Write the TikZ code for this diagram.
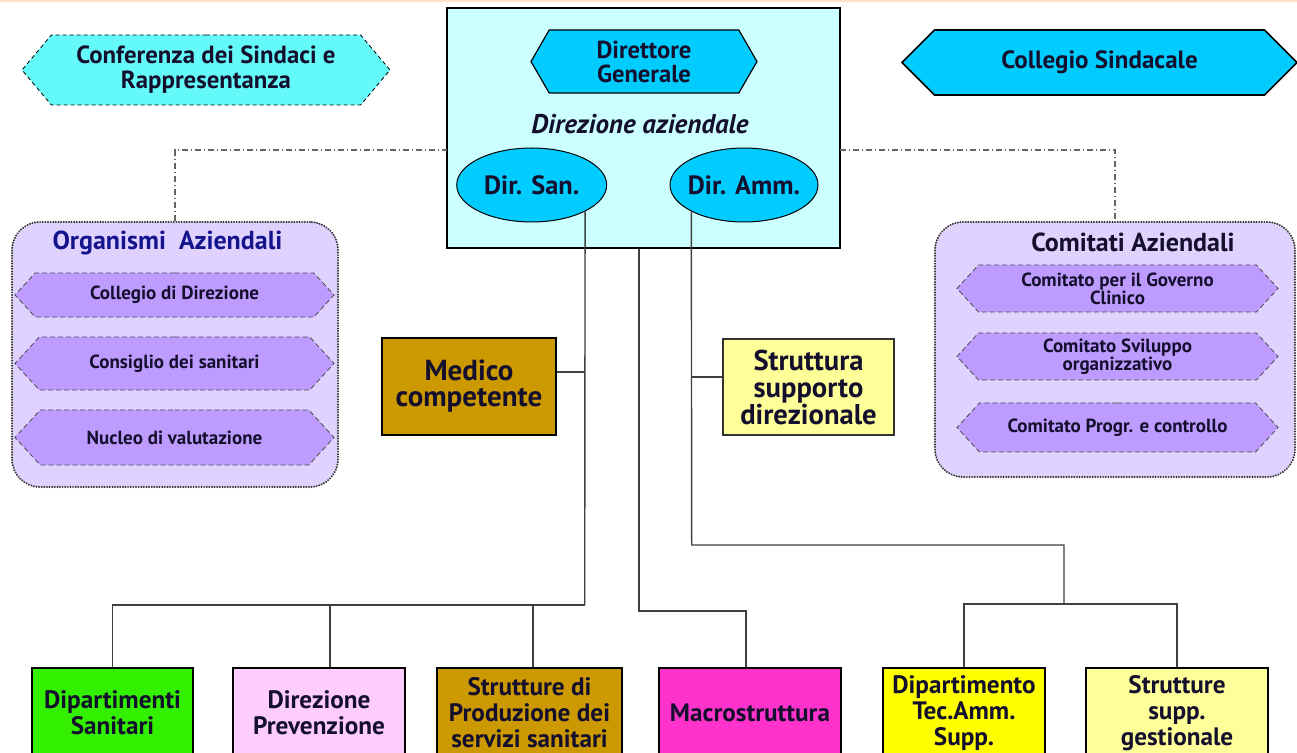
\documentclass[tikz,border=0pt]{standalone}
\usepackage{fontspec}
\setmainfont{PT Sans}
\usepackage{xcolor}
\usetikzlibrary{shapes.geometric, shapes.symbols}
\definecolor{ink}{RGB}{20,15,45}
\definecolor{confcyan}{RGB}{100,250,250}
\definecolor{skycyan}{RGB}{0,204,255}
\definecolor{dircyan}{RGB}{204,255,255}
\definecolor{panellilac}{RGB}{224,210,255}
\definecolor{itemlilac}{RGB}{190,155,255}
\definecolor{orgnavy}{RGB}{20,20,140}
\definecolor{ochre}{RGB}{204,153,0}
\definecolor{paleyellow}{RGB}{255,255,153}
\definecolor{brightgreen}{RGB}{51,240,0}
\definecolor{palepink}{RGB}{255,204,255}
\definecolor{hotmagenta}{RGB}{255,51,204}
\definecolor{pureyellow}{RGB}{255,255,0}
\definecolor{peach}{RGB}{255,228,196}
\tikzstyle{confhex} = [signal, signal to=west and east, signal pointer angle=100, minimum width=184pt, minimum height=35pt, align=center, draw=black, dash pattern=on 2pt off 1.5pt, fill=confcyan, font=\fontsize{12.4}{12.4}\selectfont\bfseries]
\tikzstyle{sindhex} = [signal, signal to=west and east, signal pointer angle=90, minimum width=197.5pt, minimum height=32.5pt, draw=black, line width=0.8pt, fill=skycyan, font=\fontsize{12.5}{12}\selectfont\bfseries]
\tikzstyle{dghex} = [signal, signal to=west and east, signal pointer angle=120, minimum width=113pt, minimum height=31.5pt, align=center, draw=black, line width=0.6pt, fill=skycyan, font=\fontsize{12.3}{12}\selectfont\bfseries]
\tikzstyle{dirbox} = [rectangle, draw=black, line width=1.2pt, fill=dircyan, minimum width=196.5pt, minimum height=120pt]
\tikzstyle{direll} = [ellipse, draw=black, line width=0.5pt, fill=skycyan, inner xsep=-8pt, minimum height=37pt, font=\fontsize{13.2}{13}\selectfont\bfseries]
\tikzstyle{panel} = [rectangle, rounded corners=14pt, draw=black!80, line width=1.1pt, dash pattern=on 0.01pt off 1.3pt, line cap=round, fill=panellilac]
\tikzstyle{paneltitle} = [font=\fontsize{13}{13}\selectfont\bfseries]
\tikzstyle{itemhex} = [signal, signal to=west and east, signal pointer angle=95, minimum width=159.5pt, draw=black!70, dash pattern=on 2.5pt off 1.5pt, fill=itemlilac, align=center, font=\fontsize{9.5}{9}\selectfont\bfseries]
\tikzstyle{unit} = [rectangle, draw=black, line width=1pt, minimum height=45pt, align=center, font=\fontsize{12.6}{13}\selectfont\bfseries]
\tikzstyle{link} = [draw=black!75, line width=0.7pt]
\tikzstyle{relink} = [draw=black!60, line width=0.6pt, dash pattern=on 3pt off 1.5pt on 0.5pt off 1.5pt]

\begin{document}
\begin{tikzpicture}[x=0.5pt, y=-0.5pt, every node/.style={text=ink, inner sep=0pt}]

		\clip (0,0) rectangle (1297,753);
		\fill [white] (0,0) rectangle (1297,753);
		\draw [peach, line width=1pt] (0,1) -- (1297,1);

		\node (conf) [confhex] at (206,70) {Conferenza dei Sindaci e\\Rappresentanza};
		\node (colsind) [sindhex] at (1099.5,62.5) {Collegio Sindacale};

		\node (direzione) [dirbox] at (643.5,128) {};
		\node (dirgen) [dghex] at (644,61.5) {Direttore\\Generale};
		\node (dirlabel) [font=\fontsize{13.5}{13.5}\selectfont\bfseries\itshape] at (640,124) {Direzione aziendale};
		\node (dirsan) [direll, minimum width=75pt] at (531.7,185) {Dir. San.};
		\node (diramm) [direll, minimum width=74pt] at (744,185) {Dir. Amm.};

		\node (organismi) [panel, minimum width=163pt, minimum height=132.5pt] at (175,354.5) {};
		\node (orgtitle) [paneltitle, text=orgnavy] at (167.5,243) {Organismi\ \ Aziendali};
		\node (orgcol) [itemhex, minimum height=22pt] at (174.5,295) {Collegio di Direzione};
		\node (orgcons) [itemhex, minimum height=26.5pt] at (174.5,363.5) {Consiglio dei sanitari};
		\node (orgnuc) [itemhex, minimum height=27.5pt] at (174.5,437.5) {Nucleo di valutazione};

		\node (comitati) [panel, minimum width=180pt, minimum height=127.5pt] at (1115,349.5) {};
		\node (comtitle) [paneltitle] at (1133,242) {Comitati Aziendali};
		\node (comgov) [itemhex, minimum width=160.5pt, minimum height=23.5pt] at (1117.5,288.5) {Comitato per il Governo\\Clinico};
		\node (comsvil) [itemhex, minimum width=160.5pt, minimum height=23.5pt] at (1117.5,356.5) {Comitato Sviluppo\\organizzativo};
		\node (comprog) [itemhex, minimum width=160.5pt, minimum height=24.5pt] at (1117.5,427.5) {Comitato Progr. e controllo};

		\node (medico) [unit, fill=ochre, minimum width=87pt, minimum height=48.5pt, font=\fontsize{14.5}{13}\selectfont\bfseries] at (469,386.5) {Medico\\competente};
		\node (struttura) [unit, fill=paleyellow, draw=black!80, line width=0.7pt, minimum width=85.5pt, minimum height=48pt, font=\fontsize{14.3}{13.5}\selectfont\bfseries] at (808.5,387) {Struttura\\supporto\\direzionale};

		\node (dipsan) [unit, fill=brightgreen, minimum width=80.5pt] at (112.5,713) {Dipartimenti\\Sanitari};
		\node (dirprev) [unit, fill=palepink, minimum width=86pt] at (319,713) {Direzione\\Prevenzione};
		\node (strprod) [unit, fill=ochre, minimum width=92.5pt] at (529.5,713) {Strutture di\\Produzione dei\\servizi sanitari};
		\node (macro) [unit, fill=hotmagenta, minimum width=91pt] at (750,713) {Macrostruttura};
		\node (diptec) [unit, fill=pureyellow, minimum width=81pt] at (964,713) {Dipartimento\\Tec.Amm.\\Supp.};
		\node (strsupp) [unit, fill=paleyellow, minimum width=91pt] at (1177,713) {Strutture\\supp.\\gestionale};

		\coordinate (linkleft) at (447,150);
		\coordinate (linkright) at (840,150);
		\coordinate (sanbus) at (584.7,605);
		\coordinate (medjoin) at (584.7,372);
		\coordinate (macbend) at (639,611);
		\coordinate (ammbend) at (691.7,545);
		\coordinate (ammturn) at (1064,545);
		\coordinate (ammbus) at (1064,604);
		\coordinate (strjoin) at (691.7,377);

		\draw [relink] (organismi.north) |- (linkleft);
		\draw [relink] (linkright) -| (comitati.north);

		\draw [link] (dirsan.south east) -- (sanbus);
		\draw [link] (sanbus) -| (dipsan.north);
		\draw [link] (sanbus) -| ([xshift=5.5pt]dirprev.north);
		\draw [link] (sanbus) -| ([xshift=1.75pt]strprod.north);
		\draw [link] (medico.east |- medjoin) -- (medjoin);

		\draw [link] (direzione.south -| macbend) -- (macbend) -| ([xshift=-2pt]macro.north);

		\draw [link] (diramm.south west) -- (ammbend) -- (ammturn) -- (ammbus);
		\draw [link] (diptec.north) |- (ammbus) -| (strsupp.north);
		\draw [link] (strjoin) -- (struttura.west |- strjoin);

\end{tikzpicture}
\end{document}
